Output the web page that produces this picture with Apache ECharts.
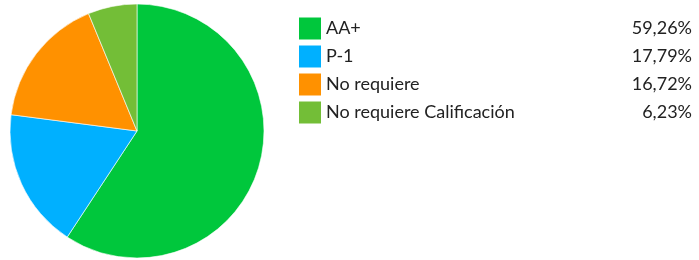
<!DOCTYPE html>
<html>
<head>
<meta charset="utf-8">
<style>
    html, body {margin:0;padding:0;background:#fff;}
    #chart {width:699px;height:260px;}
</style>
<script src="https://cdn.jsdelivr.net/npm/echarts@6/dist/echarts.min.js"></script>
</head>
<body>
<div id="chart"></div>
<script>
    var categories = ['AA+', 'P-1', 'No requiere', 'No requiere Calificación'];
    var values = [59.26, 17.79, 16.72, 6.23];
    var colors = ['#00c73c', '#00b0ff', '#ff9100', '#73be37'];

    var chart = echarts.init(document.getElementById('chart'));

    function fmtPct(v) {
        return v.toFixed(2).replace('.', ',') + '%';
    }

    var option = {
        animation: false,
        color: colors,
        textStyle: {fontFamily: 'Lato'},
        legend: {
            orient: 'vertical',
            left: 299,
            top: 17.5,
            padding: 0,
            itemWidth: 22,
            itemHeight: 22,
            itemGap: 6,
            icon: 'rect',
            itemStyle: {borderWidth: 0},
            data: categories,
            formatter: function (name) {
                var i = categories.indexOf(name);
                return '{n|' + name + '}{p|' + fmtPct(values[i]) + '}';
            },
            textStyle: {
                rich: {
                    n: {fontFamily: 'Lato', fontSize: 18, color: '#222', width: 290},
                    p: {fontFamily: 'Lato', fontSize: 18, color: '#222', width: 76, align: 'right'}
                }
            }
        },
        series: [{
            type: 'pie',
            center: [137, 131],
            radius: 127,
            startAngle: 90,
            clockwise: true,
            label: {show: false},
            labelLine: {show: false},
            itemStyle: {borderColor: '#fff', borderWidth: 0.6},
            data: categories.map(function (c, i) {
                return {name: c, value: values[i]};
            })
        }]
    };
    chart.setOption(option);
    window.onresize = function () {
        chart.resize();
    };
</script>
</body>
</html>
